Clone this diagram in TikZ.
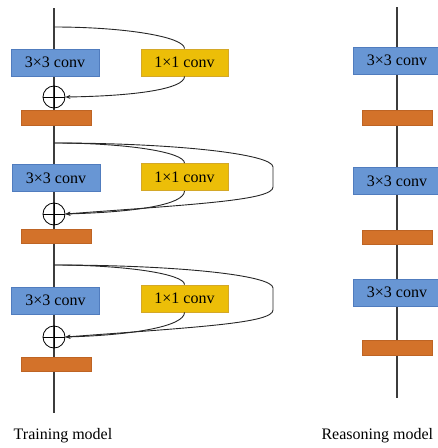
\documentclass[tikz,border=0pt]{standalone}
\usepackage{fontspec}
\setmainfont{Liberation Serif}
\usetikzlibrary{arrows.meta}
\definecolor{convblue}{RGB}{104,150,212}
\definecolor{convblueedge}{RGB}{80,124,190}
\definecolor{convyellow}{RGB}{236,190,8}
\definecolor{convyellowedge}{RGB}{212,168,40}
\definecolor{bnorange}{RGB}{211,114,42}
\definecolor{bnorangeedge}{RGB}{190,100,36}
\definecolor{trunk}{RGB}{60,60,60}
\newcommand{\boxfont}{\fontsize{16}{18}\selectfont}
\newcommand{\capfont}{\fontsize{16}{18}\selectfont}
\tikzset{
  conva/.style={draw=convblueedge, fill=convblue, line width=0.8pt,
    minimum width=88pt, minimum height=27pt, inner sep=0pt, font=\boxfont},
  convb/.style={draw=convyellowedge, fill=convyellow, line width=0.8pt,
    minimum width=87pt, minimum height=27pt, inner sep=0pt, font=\boxfont},
  bnbar/.style={draw=bnorangeedge, fill=bnorange, line width=0.6pt,
    minimum width=70pt, minimum height=14.5pt, inner sep=0pt},
  addnode/.style={circle, draw=black, line width=0.8pt, minimum size=22pt, inner sep=0pt},
  trunkline/.style={draw=trunk, line width=1.1pt},
  branch/.style={draw=black!85, line width=0.9pt},
  arrowbranch/.style={branch, -{Stealth[length=5pt,width=4pt]}},
  caption/.style={font=\capfont}
}
\begin{document}
\begin{tikzpicture}[x=1pt,y=-1pt]
\useasboundingbox (0,0) rectangle (438,448);

% ---------- training model: trunk ----------
\coordinate (ttop) at (54,8);
\coordinate (tbot) at (54,413);
\path[trunkline] (ttop) -- (tbot);

% branch points on the trunk
\coordinate (s1) at (54,27);
\coordinate (s2) at (54,143);
\coordinate (s3) at (54,265);

% block 1
\node[conva] (a1) at (55,62.5) {3×3 conv};
\node[convb] (b1) at (184.5,62.5) {1×1 conv};
\node[addnode] (p1) at (54,97) {};
\node[bnbar] (n1) at (56,118) {};

% block 2
\node[conva] (a2) at (56,178) {3×3 conv};
\node[convb] (b2) at (184.5,177) {1×1 conv};
\node[addnode] (p2) at (54,214) {};
\node[bnbar] (n2) at (56,236.5) {};

% block 3
\node[conva] (a3) at (55.5,300.5) {3×3 conv};
\node[convb] (b3) at (184.5,298.5) {1×1 conv};
\node[addnode] (p3) at (54,337) {};
\node[bnbar] (n3) at (56,364.5) {};

% plus signs inside the adders
\foreach \p in {p1,p2,p3}{
  \draw[line width=0.8pt] (\p.west) -- (\p.east);
  \draw[line width=0.8pt] (\p.north) -- (\p.south);
}

% 1x1 branches (quarter-ellipse shaped)
\draw[branch] (s1) .. controls (126,27) and (184.5,37) .. (b1.north);
\draw[arrowbranch] (b1.south) .. controls (184.5,89) and (135,96) .. (p1.east);

\draw[branch] (s2) .. controls (126,143) and (184.5,152) .. (b2.north);
\draw[arrowbranch] (b2.south) .. controls (184.5,205) and (135,212) .. (p2.east);

\draw[branch] (s3) .. controls (126,265) and (184.5,274) .. (b3.north);
\draw[arrowbranch] (b3.south) .. controls (184.5,326) and (135,335) .. (p3.east);

% identity branches
\coordinate (r2a) at (273,167);
\coordinate (r2b) at (273,187);
\draw[branch] (s2) .. controls (175,143) and (273,154) .. (r2a) -- (r2b);
\draw[arrowbranch] (r2b) .. controls (273,200) and (200,204) .. (p2.east);

\coordinate (r3a) at (273,288);
\coordinate (r3b) at (273,310);
\draw[branch] (s3) .. controls (175,265) and (273,275) .. (r3a) -- (r3b);
\draw[arrowbranch] (r3b) .. controls (273,323) and (200,327) .. (p3.east);

% ---------- reasoning model ----------
\coordinate (rtop) at (397,7);
\coordinate (rbot) at (397,398);
\path[trunkline] (rtop) -- (rbot);
\node[conva] (c1) at (397,60.5) {3×3 conv};
\node[bnbar] (m1) at (397,118) {};
\node[conva] (c2) at (397,181) {3×3 conv};
\node[bnbar] (m2) at (397,237.5) {};
\node[conva] (c3) at (397,292.5) {3×3 conv};
\node[bnbar] (m3) at (397,348) {};

% captions
\node[caption] (lt) at (63,436) {Training model};
\node[caption, anchor=west] (lr) at (318,436) {Reasoning model};
\end{tikzpicture}
\end{document}
